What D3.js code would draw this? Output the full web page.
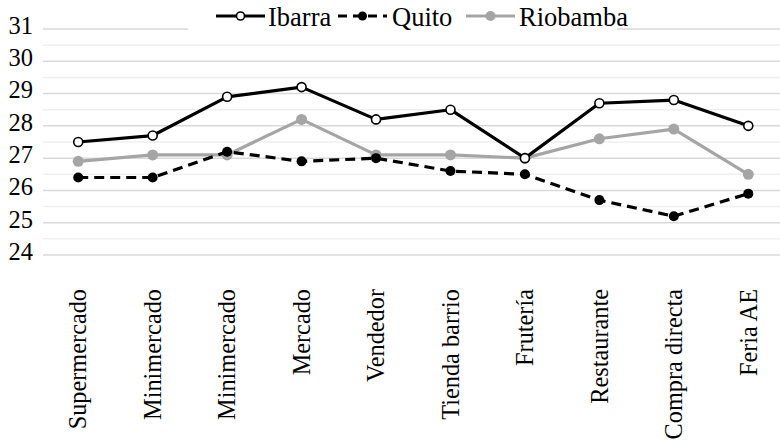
<!DOCTYPE html>
<html>
<head>
<meta charset="utf-8">
<script src="https://cdn.jsdelivr.net/npm/d3@7"></script>
<style>
  html, body { margin: 0; padding: 0; background: #fff; }
  svg { display: block; }
</style>
</head>
<body>
<svg id="chart" width="780" height="448" font-family="'Times New Roman', 'Liberation Serif', Tinos, 'DejaVu Serif', serif"></svg>
<script>
const categories = ["Supermercado", "Minimercado", "Minimercado", "Mercado", "Vendedor",
  "Tienda barrio", "Frutería", "Restaurante", "Compra directa", "Feria AE"];
const ibarra   = [27.5, 27.7, 28.9, 29.2, 28.2, 28.5, 27.0, 28.7, 28.8, 28.0];
const quito    = [26.4, 26.4, 27.2, 26.9, 27.0, 26.6, 26.5, 25.7, 25.2, 25.9];
const riobamba = [26.9, 27.1, 27.1, 28.2, 27.1, 27.1, 27.0, 27.6, 27.9, 26.5];
const yTicks = [24, 25, 26, 27, 28, 29, 30, 31];
const seriesNames = ["Ibarra", "Quito", "Riobamba"];

const svg = d3.select("#chart");
const x = d3.scaleBand().domain(d3.range(categories.length)).range([41, 785.5]).padding(0);
const cx = i => x(i) + x.bandwidth() / 2;
const y = d3.scaleLinear().domain([24, 31]).range([255, 29]);

// minor gridlines
const minor = d3.range(24.5, 31, 1);
svg.append("g").selectAll("line").data(minor).join("line")
  .attr("x1", 43).attr("x2", 780)
  .attr("y1", d => y(d)).attr("y2", d => y(d))
  .attr("stroke", "#efefef").attr("stroke-width", 1.5);
// major gridlines
svg.append("g").selectAll("line").data(yTicks).join("line")
  .attr("x1", 43).attr("x2", 780)
  .attr("y1", d => y(d)).attr("y2", d => y(d))
  .attr("stroke", "#d9d9d9").attr("stroke-width", 1.5);

// y tick labels
svg.append("g").selectAll("text").data(yTicks).join("text")
  .attr("x", 33).attr("y", d => y(d)).attr("dy", "0.2em")
  .attr("text-anchor", "end").attr("font-size", 24.5)
  .text(d => d);

// category labels
svg.append("g").selectAll("text").data(categories).join("text")
  .attr("transform", (d, i) => `translate(${cx(i)},289) rotate(-90)`)
  .attr("dy", "0.34em")
  .attr("text-anchor", "end").attr("font-size", 24.3)
  .text(d => d);

const line = d3.line().x((d, i) => cx(i)).y(d => y(d));

// Riobamba
svg.append("path").datum(riobamba).attr("d", line)
  .attr("fill", "none").attr("stroke", "#a5a5a5").attr("stroke-width", 3.2)
  .attr("stroke-linejoin", "round");
svg.append("g").selectAll("circle").data(riobamba).join("circle")
  .attr("cx", (d, i) => cx(i)).attr("cy", d => y(d)).attr("r", 5.5)
  .attr("fill", "#a5a5a5");

// Quito
svg.append("path").datum(quito).attr("d", line)
  .attr("fill", "none").attr("stroke", "#000").attr("stroke-width", 3.2)
  .attr("stroke-dasharray", "10,6");
svg.append("g").selectAll("circle").data(quito).join("circle")
  .attr("cx", (d, i) => cx(i)).attr("cy", d => y(d)).attr("r", 5)
  .attr("fill", "#000");

// Ibarra
svg.append("path").datum(ibarra).attr("d", line)
  .attr("fill", "none").attr("stroke", "#000").attr("stroke-width", 3.2)
  .attr("stroke-linejoin", "round");
svg.append("g").selectAll("circle").data(ibarra).join("circle")
  .attr("cx", (d, i) => cx(i)).attr("cy", d => y(d)).attr("r", 4.5)
  .attr("fill", "#fff").attr("stroke", "#000").attr("stroke-width", 1.6);

// legend
const lg = svg.append("g");
lg.append("rect").attr("x", 188).attr("y", 0).attr("width", 429).attr("height", 38).attr("fill", "#fff");
const legendLine = [216, 338, 466];
const legendText = [268, 392, 519];
const ly = 16;
seriesNames.forEach((name, k) => {
  const x0 = legendLine[k];
  const g = lg.append("g");
  const stroke = k === 2 ? "#a5a5a5" : "#000";
  g.append("line").attr("x1", x0).attr("x2", x0 + 49).attr("y1", ly).attr("y2", ly)
    .attr("stroke", stroke).attr("stroke-width", 3.2)
    .attr("stroke-dasharray", k === 1 ? "9,6" : null);
  const c = g.append("circle").attr("cx", x0 + 24.5).attr("cy", ly);
  if (k === 0) c.attr("r", 4).attr("fill", "#fff").attr("stroke", "#000").attr("stroke-width", 1.6);
  else if (k === 1) c.attr("r", 4.5).attr("fill", "#000");
  else c.attr("r", 5).attr("fill", "#a5a5a5");
  g.append("text").attr("x", legendText[k]).attr("y", 26).attr("font-size", 26.5).text(name);
});
</script>
</body>
</html>
